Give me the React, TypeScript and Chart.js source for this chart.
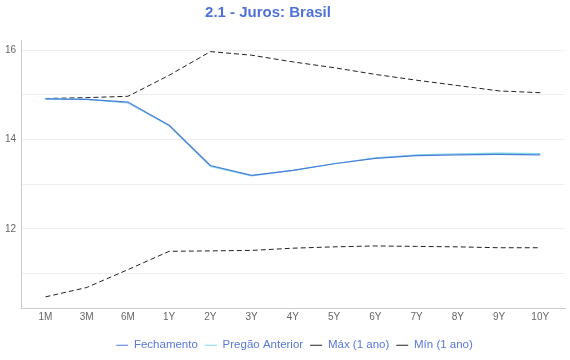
import React, { useEffect, useRef } from "react";
import { Chart, registerables } from "chart.js";

Chart.register(...registerables);

const categories = ["1M", "3M", "6M", "1Y", "2Y", "3Y", "4Y", "5Y", "6Y", "7Y", "8Y", "9Y", "10Y"];
const fechamento = [14.91, 14.9, 14.84, 14.32, 13.42, 13.2, 13.31, 13.46, 13.58, 13.64, 13.66, 13.67, 13.66];
const pregaoAnterior = [14.91, 14.9, 14.82, 14.31, 13.4, 13.19, 13.31, 13.46, 13.59, 13.66, 13.68, 13.7, 13.69];
const maxAno = [14.92, 14.94, 14.97, 15.44, 15.97, 15.89, 15.74, 15.61, 15.46, 15.33, 15.21, 15.09, 15.05];
const minAno = [10.48, 10.69, 11.09, 11.5, 11.51, 11.52, 11.57, 11.6, 11.62, 11.61, 11.6, 11.58, 11.58];
const yLabelTicks = [12, 14, 16];

const FONT = "'Helvetica Neue', Helvetica, Arial, 'Liberation Sans', sans-serif";
const BLUE_TEXT = "#5878dc";

const toPoints = (arr: number[]) => arr.map((v, i) => ({ x: i, y: v }));

const legendShift = {
  id: "legendShift",
  afterLayout(chart: any) {
    const lg = chart.legend;
    if (lg) {
      lg.left += 12;
      lg.right += 12;
      lg.top += 6;
      lg.bottom += 6;
    }
  },
};

export default function App() {
  const ref = useRef<HTMLCanvasElement>(null);
  useEffect(() => {
    document.body.style.margin = "0";
    const chart = new Chart(ref.current!, {
      type: "line",
      data: {
        datasets: [
          { label: "Fechamento", data: toPoints(fechamento), borderColor: "#4a7dd8", backgroundColor: "#4a7dd8", borderWidth: 1.2, pointRadius: 0, pointStyle: "line", tension: 0 },
          { label: "Pregão Anterior", data: toPoints(pregaoAnterior), borderColor: "#7fd6ea", backgroundColor: "#7fd6ea", borderWidth: 1.2, pointRadius: 0, pointStyle: "line", tension: 0 },
          { label: "Máx (1 ano)", data: toPoints(maxAno), borderColor: "#222222", backgroundColor: "#222222", borderWidth: 1, borderDash: [5, 3], pointRadius: 0, pointStyle: "line" },
          { label: "Mín (1 ano)", data: toPoints(minAno), borderColor: "#222222", backgroundColor: "#222222", borderWidth: 1, borderDash: [5, 3], pointRadius: 0, pointStyle: "line" },
        ],
      },
      options: {
        animation: false,
        responsive: false,
        layout: { padding: { left: 0, right: 5, top: 40, bottom: 5 } },
        plugins: {
          title: { display: false },
          tooltip: { enabled: false },
          legend: {
            position: "bottom",
            labels: {
              usePointStyle: true,
              pointStyleWidth: 12,
              padding: 7,
              color: BLUE_TEXT,
              font: { family: FONT, size: 11.5 },
            },
          },
        },
        scales: {
          x: {
            type: "linear",
            min: -0.59,
            max: 12.6,
            grid: { display: false, drawTicks: false },
            border: { display: true, color: "#cccccc" },
            ticks: {
              stepSize: 1,
              includeBounds: false,
              autoSkip: false,
              maxRotation: 0,
              padding: 3,
              color: "#666666",
              font: { family: FONT, size: 10 },
              callback: (v: any) => (Number.isInteger(v) && categories[v] !== undefined ? categories[v] : ""),
            },
          },
          y: {
            type: "linear",
            min: 10.22,
            max: 16.23,
            grid: {
              drawTicks: false,
              color: (ctx: any) => (Number.isInteger(ctx.tick?.value) ? "#eeeeee" : "rgba(0,0,0,0)"),
            },
            border: { display: true, color: "#cccccc" },
            ticks: {
              stepSize: 1,
              includeBounds: false,
              padding: 5,
              color: "#666666",
              font: { family: FONT, size: 10 },
              callback: (v: any) => (yLabelTicks.includes(v) ? String(v) : ""),
            },
          },
        },
      },
      plugins: [legendShift],
    } as any);
    return () => chart.destroy();
  }, []);
  return (
    <div style={{ position: "relative", width: 570, height: 360 }}>
      <div
        style={{
          position: "absolute",
          top: 3,
          left: 0,
          width: 536,
          textAlign: "center",
          font: `bold 15px ${FONT}`,
          color: "#4f72d6",
          lineHeight: "18px",
        }}
      >
        2.1 - Juros: Brasil
      </div>
      <canvas ref={ref} width={570} height={360} style={{ display: "block" }} />
    </div>
  );
}
